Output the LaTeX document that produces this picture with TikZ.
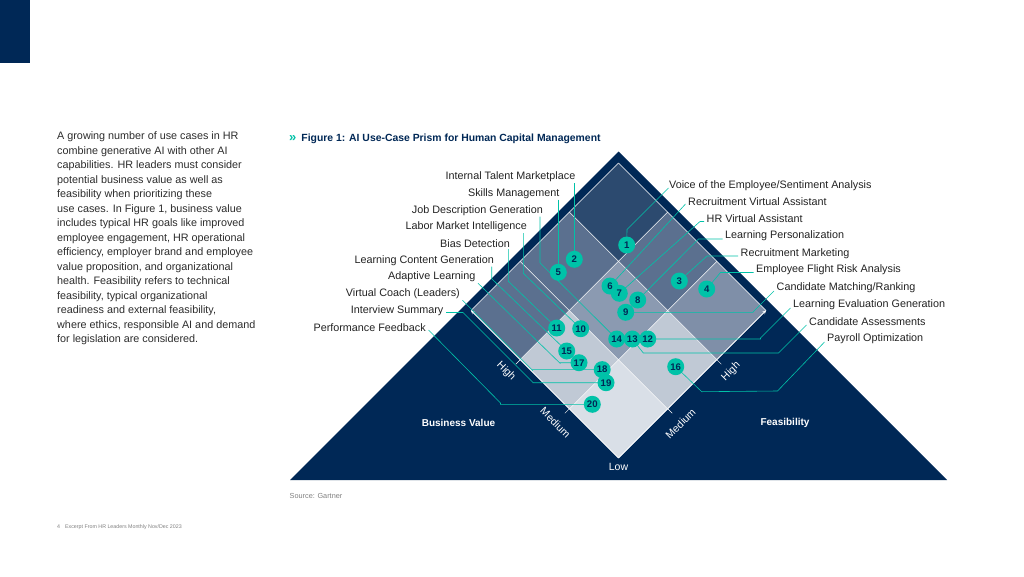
\documentclass[tikz,border=0pt]{standalone}
\usepackage{fontspec}
\setmainfont{Liberation Sans}
\usetikzlibrary{arrows}
\definecolor{navy}{RGB}{0,40,86}
\definecolor{prismteal}{RGB}{0,194,168}
\definecolor{cellA}{RGB}{217,223,231}
\definecolor{cellB}{RGB}{192,201,213}
\definecolor{cellC}{RGB}{139,154,177}
\definecolor{cellD}{RGB}{127,143,168}
\definecolor{cellE}{RGB}{91,112,143}
\definecolor{cellF}{RGB}{44,74,111}
\definecolor{labelgray}{RGB}{35,35,35}
\definecolor{bodygray}{RGB}{45,45,45}

\begin{document}
\begin{tikzpicture}[x=1pt,y=-1pt]
\tikzstyle{every node}=[inner sep=1pt]
\tikzstyle{bubble}=[circle, fill=prismteal, inner sep=0pt, minimum size=17pt, text=navy, font=\fontsize{9.6}{10}\selectfont\bfseries]
\tikzstyle{lbl}=[inner xsep=2.5pt, inner ysep=1pt, text=labelgray, font=\fontsize{10.8}{12}\selectfont]
\tikzstyle{lead}=[draw=prismteal, line width=0.6pt]
\tikzstyle{grid}=[draw=white, line width=0.5pt]
\tikzstyle{axis}=[text=white, inner sep=0pt, font=\fontsize{10.5}{12}\selectfont]

\useasboundingbox (0,0) rectangle (1024,576);
\fill[white] (0,0) rectangle (1024,576);
\fill[navy] (0,0) rectangle (30,63);

\node[anchor=north west, inner sep=0pt, align=left, text=bodygray,
  font=\fontsize{10.8}{14.5}\selectfont] (body) at (57,131.5)
  {A growing number of use cases in HR\\
   combine generative AI with other AI\\
   capabilities. HR leaders must consider\\
   potential business value as well as\\
   feasibility when prioritizing these\\
   use cases. In Figure 1, business value\\
   includes typical HR goals like improved\\
   employee engagement, HR operational\\
   efficiency, employer brand and employee\\
   value proposition, and organizational\\
   health. Feasibility refers to technical\\
   feasibility, typical organizational\\
   readiness and external feasibility,\\
   where ethics, responsible AI and demand\\
   for legislation are considered.};

\node[anchor=west, text=navy, font=\fontsize{10.4}{12}\selectfont\bfseries] (ttl) at (288,139)
  {\textcolor{prismteal}{\fontsize{13}{12}\selectfont»}\hspace{5pt}Figure 1: AI Use-Case Prism for Human Capital Management};

% prism
\fill[navy] (290,480) -- (618.5,151.5) -- (947,480) -- cycle;
\foreach \i/\j/\c in {0/0/cellA, 1/0/cellB, 0/1/cellB, 1/1/cellC, 0/2/cellD,
                      2/0/cellE, 2/1/cellE, 1/2/cellE, 2/2/cellF}
  \fill[\c] ({618.5+(\j-\i)*49.17},{458-(\i+\j)*49.17}) -- ++(-49.17,-49.17)
    -- ++(49.17,-49.17) -- ++(49.17,49.17) -- cycle;
\foreach \k in {0,...,3} {
  \draw[grid] ({618.5-\k*49.17},{458-\k*49.17}) -- ++(147.5,-147.5);
  \draw[grid] ({618.5+\k*49.17},{458-\k*49.17}) -- ++(-147.5,-147.5);
}
\coordinate (low) at (618.5,458);
\coordinate (lft) at (471,310.5);
\coordinate (rgt) at (766,310.5);
\draw[white, line width=0.6pt, ->, >=stealth] (low) -- (lft);
\draw[white, line width=0.6pt, ->, >=stealth] (low) -- (rgt);
\draw[grid] (520.2,359.7) -- ++(-4.5,4.5);
\draw[grid] (569.3,408.8) -- ++(-4.5,4.5);
\draw[grid] (716.8,359.7) -- ++(4.5,4.5);
\draw[grid] (667.7,408.8) -- ++(4.5,4.5);

\node[axis, rotate=-45] (bvh) at (506,371.5) {High};
\node[axis, rotate=-45] (bvm) at (555.5,422.5) {Medium};
\node[axis, rotate=45] (feh) at (731,371.5) {High};
\node[axis, rotate=45] (fem) at (680.5,423.5) {Medium};
\node[axis] (lo) at (618.5,467) {Low};
\node[axis, font=\fontsize{10}{12}\selectfont\bfseries] (bv) at (458.5,423) {Business Value};
\node[axis, font=\fontsize{10}{12}\selectfont\bfseries] (fe) at (785,423) {Feasibility};

\foreach \n/\x/\y in {1/626.7/245, 2/574.3/259.3, 3/679.3/281, 4/706.7/289,
    5/558.3/272.3, 6/610/286, 7/619.3/293.3, 8/637.7/300, 9/625.7/312.3,
    10/580.7/328.7, 11/556.7/328, 12/647.7/339, 13/632.3/339, 14/616.7/339,
    15/566.7/351, 16/675.7/366.7, 17/579/362.7, 18/602.2/369.6, 19/606/382.7,
    20/592.3/404.3}
  \coordinate (p\n) at (\x,\y);

% left labels
\node[lbl, anchor=east] (itm) at (578,177) {Internal Talent Marketplace};
\node[lbl, anchor=east] (skm) at (562,193.5) {Skills Management};
\node[lbl, anchor=east] (jdg) at (545.5,210.5) {Job Description Generation};
\node[lbl, anchor=east] (lmi) at (529.5,227) {Labor Market Intelligence};
\node[lbl, anchor=east] (bid) at (512.5,244) {Bias Detection};
\node[lbl, anchor=east] (lcg) at (496.5,260.5) {Learning Content Generation};
\node[lbl, anchor=east] (adl) at (478,277) {Adaptive Learning};
\node[lbl, anchor=east] (vcl) at (462.5,294) {Virtual Coach (Leaders)};
\node[lbl, anchor=east] (ivs) at (446,311) {Interview Summary};
\node[lbl, anchor=east] (pfb) at (428.5,328) {Performance Feedback};

% right labels
\node[lbl, anchor=west] (voe) at (666.5,186) {Voice of the Employee/Sentiment Analysis};
\node[lbl, anchor=west] (rva) at (685.5,202) {Recruitment Virtual Assistant};
\node[lbl, anchor=west] (hva) at (704,219) {HR Virtual Assistant};
\node[lbl, anchor=west] (lpe) at (722.5,236) {Learning Personalization};
\node[lbl, anchor=west] (rma) at (738,253.5) {Recruitment Marketing};
\node[lbl, anchor=west] (efr) at (753.5,270) {Employee Flight Risk Analysis};
\node[lbl, anchor=west] (cmr) at (774,288) {Candidate Matching/Ranking};
\node[lbl, anchor=west] (leg) at (790.5,305) {Learning Evaluation Generation};
\node[lbl, anchor=west] (cas) at (806.5,322) {Candidate Assessments};
\node[lbl, anchor=west] (pay) at (824.5,339) {Payroll Optimization};

\draw[lead] (p2 |- itm.south) -- (p2);
\draw[lead] (p5 |- skm.south) -- (p5);
\draw[lead] ([xshift=-5.5pt]jdg.south east) -- ++(0,46) -- (p14);
\draw[lead] ([xshift=-6.2pt]lmi.south east) -- ++(0,40) -- (p10);
\draw[lead] ([xshift=-4.2pt]bid.south east) -- ++(0,32) -- (p11);
\draw[lead] ([xshift=-4.8pt]lcg.south east) -- ++(0,12) -- (p15);
\draw[lead] (adl.south east) -- ++(82,80) |- (p17);
\draw[lead] (vcl.south east) -- ++(70,70) |- (p18);
\draw[lead] ([yshift=-1.5pt]ivs.east) -- ++(17,0) -- ++(70,70) |- (p19);
\draw[lead] ([yshift=-2pt]pfb.east) -- ++(72,73) |- (p20);

\draw[lead] ([xshift=2pt,yshift=-2pt]voe.west) -- ++(-41.5,41.5) -- (p1);
\draw[lead] ([yshift=-2pt]rva.west) -- (p6);
\draw[lead] ([yshift=-2.5pt]hva.west) -- ++(-4,0) -- (p7);
\draw[lead] ([yshift=-3pt]lpe.west) -- ++(-24,0) -- (p8);
\draw[lead] ([yshift=-2.5pt]rma.west) -- ++(-31,0) -- (p3);
\draw[lead] ([yshift=-2.5pt]efr.west) -- ++(-33,0) -- (p4);
\draw[lead] ([yshift=-3pt]cmr.west) -- ++(-21,21) |- (p9);
\draw[lead] ([yshift=-3pt]leg.west) -- ++(-30,30) |- (p12);
\draw[lead] ([yshift=-3pt]cas.west) -- ++(-28,28) -- ([shift={(11,14)}]p13) -- (p13);
\draw[lead] ([yshift=-3pt]pay.west) -- ++(-47,49) -- ([shift={(26,25)}]p16) -- (p16);

\foreach \n in {1,...,20}
  \node[bubble] (b\n) at (p\n) {\n};

\node[anchor=west, text=gray, font=\fontsize{7.3}{8}\selectfont] (src) at (288.5,496) {Source: Gartner};
\node[anchor=west, text=gray, font=\fontsize{5.3}{6}\selectfont] (foot) at (56,527)
  {4\hspace{5pt}Excerpt From HR Leaders Monthly Nov/Dec 2023};
\end{tikzpicture}
\end{document}
